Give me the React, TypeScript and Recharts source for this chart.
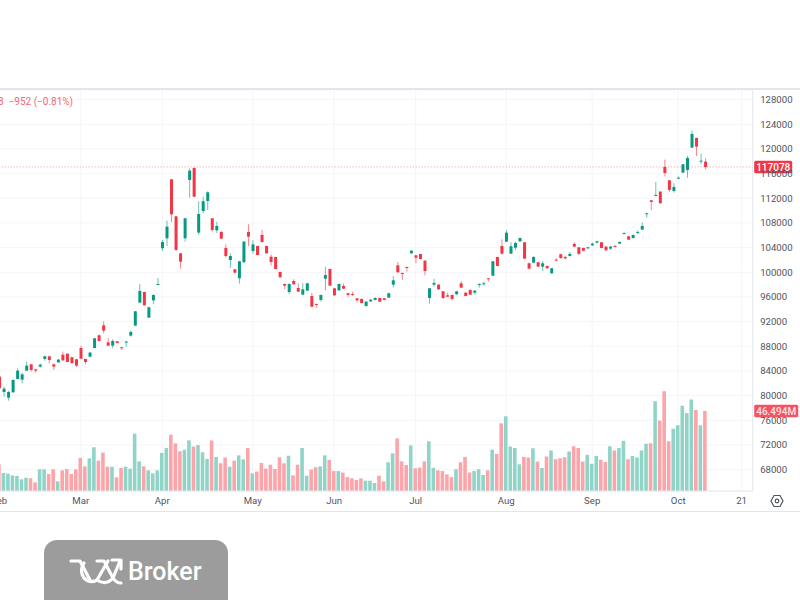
import { Bar, CartesianGrid, Cell, ComposedChart, ReferenceLine, XAxis, YAxis } from "recharts";

// prices in thousands
const opens = [
  83.07, 80.59, 79.67, 80.54, 82.7, 82.59, 84.05, 85.08, 84.26, 84.7,
  85.94, 86.37, 85.08, 85.4, 86.64, 86.8, 86.21, 85.89, 87.72, 85.94,
  86.32, 87.72, 89.78, 91.4, 88.64, 88.1, 88.8, 87.83, 88.64, 89.72,
  91.35, 95.08, 96.8, 92.64, 95.45, 97.94, 103.89, 105.51, 115.07, 109.07,
  103.07, 105.51, 114.97, 116.91, 106.43, 109.94, 111.56, 108.75, 106.8, 106.53,
  103.94, 101.99, 100.48, 99.02, 101.62, 106.53, 103.45, 104.26, 106.05, 104.26,
  102.53, 102.48, 100.05, 98.1, 96.8, 98.59, 97.45, 96.37, 97.02, 96.15,
  94.86, 95.51, 98.96, 100.53, 97.4, 97.07, 97.78, 96.59, 96.48, 95.78,
  95.67, 94.53, 95.29, 95.51, 95.83, 95.78, 95.89, 97.99, 101.13, 99.88,
  100.86, 103.07, 102.75, 102.96, 101.88, 95.83, 97.99, 97.99, 96.91, 96.26,
  96.32, 96.42, 98.21, 96.69, 97.13, 96.69, 97.94, 98.1, 99.02, 99.45,
  102.48, 104.26, 104.96, 103.02, 103.99, 105.02, 104.86, 101.46, 101.56, 101.62,
  100.92, 101.02, 99.84, 102.05, 102.92, 102.48, 102.65, 104.59, 104.05, 103.94,
  103.89, 104.38, 104.81, 104.86, 104.16, 103.84, 104.27, 104.65, 106.21, 105.83,
  105.56, 106.43, 106.92, 109.4, 111.67, 112.38, 113.08, 117.08, 114.92, 113.19,
  115.19, 116.16, 116.59, 120.21, 121.78, 118.0, 117.94,
];
const highs = [
  83.19, 81.45, 80.75, 82.64, 84.43, 83.72, 85.51, 85.13, 84.32, 85.18,
  86.48, 86.43, 85.18, 85.94, 87.13, 86.85, 86.32, 85.94, 88.1, 85.99,
  87.08, 89.35, 89.94, 92.05, 89.35, 89.13, 88.86, 87.89, 88.91, 90.53,
  93.72, 98.1, 96.86, 94.43, 96.43, 99.08, 105.24, 108.37, 115.13, 109.13,
  103.13, 108.86, 116.86, 117.0, 111.51, 112.26, 113.13, 108.81, 108.16, 106.75,
  104.53, 103.07, 100.53, 101.83, 105.02, 107.78, 105.18, 104.32, 106.91, 104.32,
  102.91, 102.53, 100.1, 98.16, 98.21, 98.86, 98.21, 98.21, 98.27, 96.69,
  94.91, 96.37, 100.86, 100.59, 97.45, 98.21, 98.16, 96.64, 96.86, 95.83,
  95.78, 95.34, 95.62, 95.94, 95.89, 95.83, 96.69, 99.4, 101.67, 99.94,
  100.91, 103.56, 102.8, 103.02, 101.94, 97.45, 98.96, 98.1, 96.97, 96.69,
  96.37, 96.97, 98.59, 96.75, 97.23, 97.07, 98.21, 98.48, 99.08, 101.83,
  102.53, 105.34, 106.8, 104.86, 104.96, 105.62, 104.91, 101.56, 102.59, 101.67,
  101.84, 101.07, 100.7, 102.27, 103.02, 102.65, 103.29, 104.86, 104.1, 103.99,
  104.16, 104.81, 105.13, 104.92, 104.21, 104.27, 104.43, 104.97, 106.43, 105.89,
  106.1, 106.75, 108.1, 109.67, 111.72, 114.65, 113.13, 118.27, 114.97, 114.43,
  115.51, 117.56, 118.86, 123.02, 121.84, 119.24, 118.48,
];
const lows = [
  81.08, 79.83, 79.18, 80.48, 82.64, 81.99, 83.99, 83.89, 83.72, 84.53,
  85.67, 85.18, 84.16, 85.29, 85.62, 85.4, 85.18, 84.64, 85.94, 85.08,
  86.21, 87.67, 88.75, 90.1, 88.05, 87.67, 88.48, 87.4, 87.94, 89.56,
  91.29, 95.02, 94.59, 92.59, 94.81, 97.9, 103.45, 104.26, 108.16, 103.45,
  100.59, 104.97, 112.1, 112.2, 106.05, 109.56, 110.1, 106.59, 106.37, 105.4,
  102.37, 100.7, 99.78, 98.16, 101.56, 104.21, 103.02, 102.75, 104.75, 103.02,
  101.07, 100.48, 99.13, 97.23, 96.48, 97.94, 96.8, 96.32, 96.97, 94.37,
  94.26, 95.23, 97.07, 97.78, 96.15, 97.02, 97.29, 96.05, 96.15, 95.13,
  94.96, 94.42, 95.18, 95.45, 95.18, 95.45, 95.83, 97.51, 99.94, 98.75,
  100.1, 103.02, 101.45, 102.1, 99.5, 94.91, 97.67, 97.18, 95.61, 95.99,
  95.4, 96.37, 97.45, 96.1, 96.32, 96.37, 97.51, 97.83, 98.48, 99.4,
  100.97, 102.86, 104.91, 102.96, 103.61, 104.96, 102.15, 100.48, 101.46, 100.86,
  100.21, 100.54, 99.73, 101.84, 102.16, 102.05, 102.54, 104.05, 102.86, 103.35,
  103.73, 104.27, 104.65, 103.84, 103.4, 103.62, 104.05, 104.59, 106.16, 105.24,
  105.45, 106.21, 106.86, 108.86, 110.1, 112.32, 111.14, 115.56, 113.02, 112.92,
  115.13, 116.1, 115.35, 120.16, 118.86, 117.56, 116.7,
];
const closes = [
  81.19, 81.13, 80.59, 82.54, 84.05, 83.45, 84.86, 84.16, 84.05, 85.02,
  86.37, 85.78, 84.7, 85.83, 85.72, 85.45, 85.29, 84.86, 85.99, 85.45,
  86.97, 89.29, 88.86, 90.53, 88.1, 88.86, 88.53, 87.67, 88.75, 90.32,
  93.67, 96.97, 94.64, 94.32, 96.32, 98.1, 104.91, 107.4, 109.4, 103.62,
  101.72, 108.75, 116.48, 112.26, 109.45, 111.51, 112.97, 106.86, 107.51, 105.45,
  102.64, 102.64, 99.94, 101.78, 104.97, 105.78, 104.53, 102.8, 104.91, 103.07,
  101.67, 100.53, 99.18, 97.83, 98.1, 98.05, 96.86, 97.23, 98.21, 94.42,
  94.75, 96.32, 99.56, 97.83, 96.26, 98.1, 97.34, 96.32, 96.32, 95.45,
  95.02, 95.23, 95.56, 95.83, 95.23, 95.51, 96.59, 98.69, 99.99, 99.72,
  100.69, 103.5, 102.37, 102.15, 100.21, 97.4, 98.27, 97.23, 95.83, 96.05,
  95.67, 96.91, 97.51, 96.15, 96.37, 97.02, 98.1, 98.21, 98.92, 101.78,
  101.02, 103.02, 106.42, 104.21, 104.75, 105.56, 102.21, 100.59, 102.48, 100.92,
  101.46, 100.65, 100.65, 101.89, 102.32, 102.27, 102.97, 104.16, 102.97, 103.51,
  104.05, 104.65, 105.02, 103.94, 103.57, 104.16, 104.16, 104.92, 106.38, 105.29,
  106.05, 106.54, 107.51, 109.56, 111.4, 112.54, 111.19, 116.1, 113.35, 113.83,
  115.35, 117.51, 118.54, 122.43, 120.37, 118.1, 117.078,
];
// volume in millions
const volumes = [
  15.9, 10.5, 10.1, 9.1, 8.7, 6.8, 7.7, 7.4, 5.0, 12.6,
  12.6, 9.9, 12.6, 5.6, 12.0, 12.8, 9.9, 12.6, 19.2, 14.3,
  19.0, 25.4, 17.6, 22.3, 14.1, 14.1, 7.9, 13.4, 14.1, 13.0,
  33.3, 17.2, 14.3, 12.0, 10.3, 12.0, 22.1, 25.0, 32.7, 27.7,
  23.1, 24.0, 29.4, 25.8, 26.7, 22.5, 18.6, 29.4, 19.8, 16.1,
  19.4, 14.1, 17.6, 20.7, 18.4, 25.0, 10.3, 11.4, 16.3, 13.0,
  15.3, 12.8, 19.6, 16.1, 20.5, 9.1, 15.3, 25.0, 8.9, 12.4,
  13.8, 14.3, 20.7, 18.0, 11.6, 11.6, 10.7, 8.1, 7.4, 6.4,
  7.4, 6.0, 6.0, 4.6, 8.9, 5.6, 16.7, 21.9, 30.6, 17.2,
  15.1, 26.5, 13.2, 13.6, 17.2, 28.9, 13.4, 12.0, 11.6, 9.7,
  8.1, 12.6, 16.7, 19.8, 10.8, 11.6, 12.6, 9.3, 12.0, 24.0,
  21.5, 39.3, 43.4, 25.8, 25.0, 15.5, 19.8, 19.4, 24.8, 17.2,
  13.4, 20.1, 23.6, 18.4, 19.0, 19.6, 22.9, 26.0, 25.0, 17.2,
  21.1, 15.9, 20.3, 18.2, 16.9, 26.0, 23.6, 25.0, 29.2, 18.4,
  20.3, 19.4, 23.6, 27.5, 27.7, 52.1, 40.9, 57.9, 28.9, 36.2,
  38.2, 49.6, 45.3, 53.1, 47.1, 38.2, 46.494,
];

const timeTicks = [0, 18, 36, 56, 74, 92, 112, 131, 150, 164];
const timeLabels = ["Feb", "Mar", "Apr", "May", "Jun", "Jul", "Aug", "Sep", "Oct", "21"];
const priceTicks = [68000, 72000, 76000, 80000, 84000, 88000, 92000, 96000, 100000, 104000, 108000, 112000, 116000, 120000, 124000, 128000];
const lastPrice = 117078;
const lastVolume = 46.494;

const UP = "#089981";
const DOWN = "#f23645";
const UP_VOL = "#90d4c8";
const DOWN_VOL = "#fba5aa";
const GRID = "#f4f5f7";
const BORDER = "#e6e8ee";
const TEXT = "#50545f";
const FONT = "Roboto, sans-serif";

const rows = opens.map((open, i) => ({
  i,
  open: open * 1000,
  high: highs[i] * 1000,
  low: lows[i] * 1000,
  close: closes[i] * 1000,
  volume: volumes[i],
}));

function Candle({ x, y, width, height, payload }: any) {
  const { open, high, low, close } = payload;
  const perUnit = height / (high - low);
  const top = y + (high - Math.max(open, close)) * perUnit;
  const bodyH = Math.max(Math.abs(open - close) * perUnit, 1);
  const color = close >= open ? UP : DOWN;
  const mid = x + width / 2;
  return (
    <g>
      <line x1={mid} x2={mid} y1={y} y2={y + height} stroke={color} strokeOpacity={0.6} strokeWidth={1} />
      <rect x={x} y={top} width={width} height={bodyH} fill={color} />
    </g>
  );
}

function PriceTag({ viewBox, text, fill, right, color }: any) {
  const left = viewBox.x + viewBox.width + 1.5;
  const cy = viewBox.y;
  return (
    <g>
      <rect x={left} y={cy - 6.3} width={right} height={12.6} rx={1.5} fill={fill} />
      <text x={left + right / 2} y={cy + 3.6} textAnchor="middle" fontFamily={FONT} fontSize={10} fontWeight={500} fill={color}>
        {text}
      </text>
    </g>
  );
}

export default function App() {
  return (
    <div style={{ position: "absolute", left: 0, top: 0, width: 800, height: 600, overflow: "hidden", background: "#fff" }}>
      <ComposedChart
        width={800}
        height={600}
        data={rows}
        margin={{ top: 90, right: 0, bottom: 89, left: -5.226 }}
      >
        <XAxis
          xAxisId="candle"
          dataKey="i"
          type="number"
          domain={[-1, 166.46]}
          allowDataOverflow
          ticks={timeTicks}
          interval={0}
          height={20}
          tickFormatter={(v: number) => timeLabels[timeTicks.indexOf(v)]}
          tick={{ fill: TEXT, fontSize: 9.6, fontFamily: FONT }}
          tickLine={false}
          tickSize={0}
          tickMargin={6}
          axisLine={{ stroke: BORDER }}
        />
        <XAxis xAxisId="vol" dataKey="i" type="number" domain={[-1, 166.46]} allowDataOverflow hide />
        <YAxis
          yAxisId="price"
          orientation="right"
          width={47.3}
          domain={[64530, 129557]}
          allowDataOverflow
          ticks={priceTicks}
          interval={0}
          tick={{ fill: TEXT, fontSize: 9.6, fontFamily: FONT, textAnchor: "start" }}
          tickLine={false}
          tickSize={0}
          tickMargin={7.5}
          axisLine={{ stroke: BORDER }}
        />
        <YAxis yAxisId="vol" orientation="right" domain={[0, 233]} allowDataOverflow hide />
        <CartesianGrid xAxisId="candle" yAxisId="price" stroke={GRID} />
        <Bar xAxisId="vol" yAxisId="vol" dataKey="volume" barSize={3.6} isAnimationActive={false}>
          {rows.map((r) => (
            <Cell key={r.i} fill={r.close >= r.open ? UP_VOL : DOWN_VOL} />
          ))}
        </Bar>
        <Bar
          xAxisId="candle"
          yAxisId="price"
          dataKey={(d: any) => [d.low, d.high]}
          barSize={3}
          isAnimationActive={false}
          shape={<Candle />}
        />
        <ReferenceLine
          xAxisId="candle"
          yAxisId="price"
          y={lastPrice}
          stroke={DOWN}
          strokeOpacity={0.55}
          strokeDasharray="1 2"
          label={<PriceTag text="117078" fill={DOWN} right={38} color="#fff" />}
        />
        <ReferenceLine
          xAxisId="vol"
          yAxisId="vol"
          y={lastVolume}
          stroke="none"
          label={<PriceTag text="46.494M" fill="#f7525f" right={44} color="#fde4e6" />}
        />
      </ComposedChart>

      {/* chart frame lines and last-value legend */}
      <div style={{ position: "absolute", left: 0, top: 88, width: 800, height: 2, background: "#e3e5ec" }} />
      <div style={{ position: "absolute", left: 0, top: 511, width: 800, height: 1, background: "#e3e5ec" }} />
      <div style={{ position: "absolute", left: -2, top: 96, fontFamily: FONT, fontSize: 10, lineHeight: "12px", color: "#ef6a75", whiteSpace: "pre" }}>
        {"8  −952 (−0.81%)"}
      </div>

      {/* settings icon */}
      <svg style={{ position: "absolute", left: 770, top: 494 }} width={14} height={14}>
        <path d="M4 1.5 H10 L13 7 L10 12.5 H4 L1 7 Z" fill="none" stroke={TEXT} strokeWidth={1.2} />
        <circle cx={7} cy={7} r={1.8} fill="none" stroke={TEXT} strokeWidth={1.2} />
      </svg>

      {/* broker badge */}
      <div style={{ position: "absolute", left: 44, top: 540, width: 184, height: 60, background: "#9c9c9c", borderRadius: "13px 13px 0 0" }} />
      <svg style={{ position: "absolute", left: 66, top: 553 }} width={62} height={36}>
        <g fill="none" stroke="#fff" strokeWidth={3.2} strokeLinejoin="round" strokeLinecap="round">
          <path d="M5 8 H14 L24 27" />
          <path d="M18 10 Q13 18 18 25 Q24 31 31 27 L42 8" />
          <path d="M31 8 H38 L47 25 Q50 30 55 30" />
          <path d="M31 27 Q40 33 47 25 L54 8" />
          <path d="M46 7 H55 V16" />
        </g>
      </svg>
      <div style={{ position: "absolute", left: 128, top: 557, fontFamily: FONT, fontSize: 25, lineHeight: "30px", fontWeight: 500, color: "#fff" }}>
        Broker
      </div>
    </div>
  );
}
